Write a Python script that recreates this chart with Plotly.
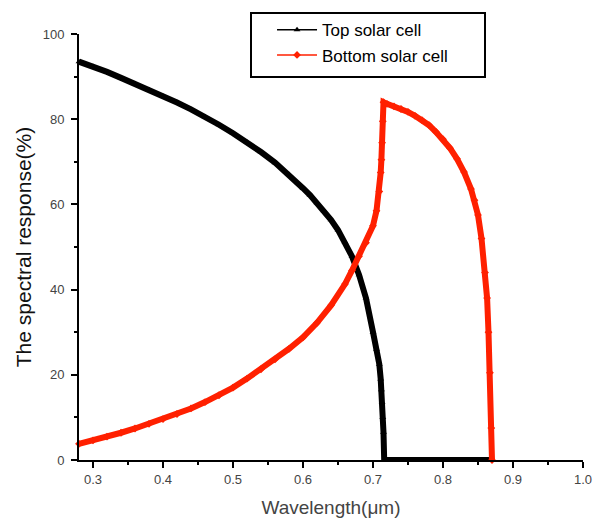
import plotly.graph_objects as go

# Top solar cell (black)
top_wl = [0.28, 0.30, 0.32, 0.34, 0.36, 0.38, 0.40, 0.42, 0.44, 0.46, 0.48,
          0.50, 0.52, 0.54, 0.56, 0.58, 0.60, 0.61, 0.62, 0.63, 0.64, 0.65,
          0.66, 0.67, 0.68, 0.69, 0.70, 0.705, 0.709, 0.711, 0.712, 0.713,
          0.714, 0.715, 0.716, 0.72, 0.73, 0.74, 0.75, 0.76, 0.77, 0.78, 0.79,
          0.80, 0.81, 0.82, 0.83, 0.84, 0.85, 0.86, 0.87]
top_sr = [93.5, 92.4, 91.1, 89.7, 88.3, 86.9, 85.4, 83.9, 82.3, 80.6, 78.7,
          76.7, 74.6, 72.3, 69.8, 67.0, 63.8, 62.2, 60.4, 58.5, 56.4, 54.0,
          51.2, 47.8, 43.5, 38.0, 30.0, 26.0, 22.5, 19.0, 16.5, 13.5,
          10.0, 6.5, 0.0, 0.0, 0.0, 0.0, 0.0, 0.0, 0.0, 0.0, 0.0,
          0.0, 0.0, 0.0, 0.0, 0.0, 0.0, 0.0, 0.0]

# Bottom solar cell (red)
bot_wl = [0.28, 0.30, 0.32, 0.34, 0.36, 0.38, 0.40, 0.42, 0.44, 0.46, 0.48,
          0.50, 0.52, 0.54, 0.56, 0.58, 0.60, 0.62, 0.64, 0.66, 0.67, 0.68,
          0.69, 0.70, 0.705, 0.709, 0.711, 0.712, 0.713, 0.714, 0.715, 0.72,
          0.73, 0.74, 0.75, 0.76, 0.77, 0.78, 0.79, 0.80, 0.81, 0.82, 0.83,
          0.84, 0.845, 0.85, 0.855, 0.86, 0.863, 0.865, 0.867, 0.869, 0.87]
bot_sr = [3.8, 4.6, 5.5, 6.4, 7.4, 8.5, 9.6, 10.8, 12.1, 13.6, 15.2,
          17.0, 19.1, 21.3, 23.6, 26.1, 28.8, 32.2, 36.3, 41.3, 44.5, 47.8,
          51.0, 55.0, 58.5, 63.0, 67.5, 70.5, 74.5, 79.5, 84.0, 83.6,
          83.0, 82.4, 81.7, 80.8, 79.8, 78.6, 77.0, 75.3, 73.2, 70.7, 67.6,
          63.6, 61.0, 57.5, 52.0, 44.0, 38.0, 30.0, 20.5, 7.5, 0.0]

x_ticks = [0.3, 0.4, 0.5, 0.6, 0.7, 0.8, 0.9, 1.0]
x_ticklabels = ["0.3", "0.4", "0.5", "0.6", "0.7", "0.8", "0.9", "1.0"]
y_ticks = [0, 20, 40, 60, 80, 100]

FONT = "Liberation Sans, Arial, sans-serif"
RED = "#ff2000"

fig = go.Figure()

fig.add_trace(go.Scatter(
    x=top_wl, y=top_sr, mode="lines+markers", showlegend=False,
    line=dict(color="black", width=6),
    marker=dict(symbol="triangle-up", size=6, color="black"),
    cliponaxis=False))
fig.add_trace(go.Scatter(
    x=bot_wl, y=bot_sr, mode="lines+markers", showlegend=False,
    line=dict(color=RED, width=6),
    marker=dict(symbol="diamond", size=6, color=RED),
    cliponaxis=False))

# legend entries (thin line with marker, as in the reference)
fig.add_trace(go.Scatter(
    x=[None], y=[None], mode="lines+markers", name="Top solar cell",
    line=dict(color="black", width=1.5),
    marker=dict(symbol="triangle-up", size=6, color="black")))
fig.add_trace(go.Scatter(
    x=[None], y=[None], mode="lines+markers", name="Bottom solar cell",
    line=dict(color=RED, width=1.5),
    marker=dict(symbol="diamond", size=6, color=RED)))

# legend frame
fig.add_shape(type="rect", xref="paper", yref="paper",
              x0=(251 - 79) / 504, x1=(485 - 79) / 504,
              y0=(460 - 77) / 426, y1=(460 - 13) / 426,
              line=dict(color="black", width=2), fillcolor="white",
              layer="below")

fig.update_layout(
    width=593, height=523,
    margin=dict(l=79, r=10, t=34, b=63, autoexpand=False),
    paper_bgcolor="white", plot_bgcolor="white",
    font=dict(family=FONT, size=13, color="#333333"),
    legend=dict(
        x=0.383, y=1.051, xanchor="left", yanchor="top",
        borderwidth=0, bgcolor="rgba(0,0,0,0)", itemwidth=40,
        font=dict(family=FONT, size=17, color="black"),
        tracegroupgap=0,
    ),
)

fig.update_xaxes(
    range=[0.28, 1.0], tickvals=x_ticks, ticktext=x_ticklabels,
    showgrid=False, zeroline=False, automargin=False,
    showline=True, linecolor="black", linewidth=2,
    ticks="outside", ticklen=6, tickwidth=1.5, tickcolor="black",
    minor=dict(dtick=0.05, tick0=0.3, ticks="outside", ticklen=3,
               tickwidth=1.5, tickcolor="black", showgrid=False),
    tickfont=dict(size=13, color="#444444"), ticklabeloverflow="allow",
    title=dict(text="Wavelength(μm)", font=dict(size=19, color="#444444"),
               standoff=15),
)
fig.update_yaxes(
    range=[0, 100], tickvals=y_ticks,
    showgrid=False, zeroline=False, automargin=False,
    showline=True, linecolor="black", linewidth=2,
    ticks="outside", ticklen=6, tickwidth=1.5, tickcolor="black",
    minor=dict(dtick=10, tick0=0, ticks="outside", ticklen=3,
               tickwidth=1.5, tickcolor="black", showgrid=False),
    tickfont=dict(size=13, color="#444444"), ticklabelstandoff=4,
    title=dict(text="The spectral response(%)",
               font=dict(size=21, color="#111111"), standoff=5),
)

fig.write_html(
    "out.html",
    config={"displayModeBar": False},
    post_script="document.body.style.margin='0';"
                "document.body.style.overflow='hidden';",
)
